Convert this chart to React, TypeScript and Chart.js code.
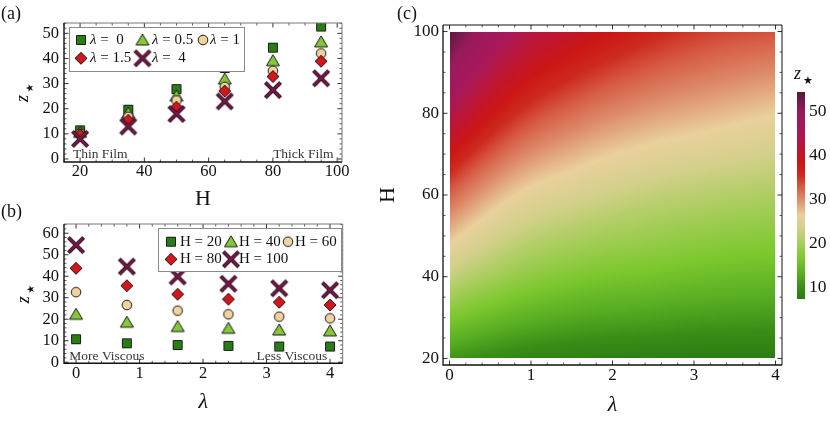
import React, { useEffect, useRef } from 'react';
import { Chart, registerables } from 'chart.js';

Chart.register(...registerables);

const SERIF = "'Liberation Serif', 'DejaVu Serif', 'Times New Roman', serif";
const TEXT = '#111111';

// ---------------- Panel (a): z* versus H, one series per lambda ----------------
const hValuesA = [20, 35, 50, 65, 80, 95];
const zLambda0 = [11.4, 19.6, 27.8, 36.2, 44.3, 52.7];
const zLambda05 = [10.6, 18.3, 25.1, 31.8, 39.1, 46.6];
const zLambda1 = [10.0, 16.8, 23.3, 28.7, 35.1, 42.0];
const zLambda15 = [9.6, 15.4, 20.6, 27.0, 32.8, 38.9];
const zLambda4 = [8.0, 12.9, 17.9, 22.9, 27.4, 32.1];
const seriesLabelsA = ['λ =  0', 'λ = 0.5', 'λ = 1', 'λ = 1.5', 'λ =  4'];
const xTicksA = [20, 40, 60, 80, 100];
const yTicksA = [0, 10, 20, 30, 40, 50];

// ---------------- Panel (b): z* versus lambda, one series per H ----------------
const lambdaValuesB = [0, 0.8, 1.6, 2.4, 3.2, 4];
const zH20 = [10.7, 8.8, 8.0, 7.6, 7.3, 7.3];
const zH40 = [22.3, 18.6, 16.6, 15.8, 15.0, 14.6];
const zH60 = [32.6, 26.6, 24.0, 22.3, 21.2, 20.4];
const zH80 = [43.7, 35.6, 31.6, 29.3, 27.9, 26.6];
const zH100 = [54.5, 44.5, 39.9, 36.5, 34.4, 33.5];
const seriesLabelsB = ['H = 20', 'H = 40', 'H = 60', 'H = 80', 'H = 100'];
const xTicksB = [0, 1, 2, 3, 4];
const yTicksB = [0, 10, 20, 30, 40, 50, 60];

// ---------------- Panel (c): density of z*(lambda, H) ----------------
const heatLambda = [0, 0.8, 1.6, 2.4, 3.2, 4];
const heatH = [20, 40, 60, 80, 100];
const heatZ = [zH20, zH40, zH60, zH80, zH100];
const xTicksC = [0, 1, 2, 3, 4];
const yTicksC = [20, 40, 60, 80, 100];
const colorbarTicks = [10, 20, 30, 40, 50];

// marker styles
const markerKinds = ['square', 'triangle', 'circle', 'diamond', 'cross'];
const markerColors = ['#2a7d14', '#84c83a', '#f0d29e', '#d2161c', '#6e1b46'];

// colour map stops (z value -> colour)
const cmapStops: [number, string][] = [
  [7.3, '#2b7c12'], [10, '#3a8e17'], [13, '#58ad22'], [16.5, '#7cc82e'],
  [20, '#a8cd5c'], [23.5, '#d3d08a'], [26.5, '#e9d09c'], [30, '#dd8c6c'],
  [33, '#d65a44'], [35.5, '#cd2a1e'], [38, '#cc1616'], [41, '#be1530'],
  [45, '#a8185a'], [50, '#971a5c'], [54.5, '#561a3a'],
];

const cmapRGB = cmapStops.map(([v, h]) => [v, parseInt(h.slice(1, 3), 16), parseInt(h.slice(3, 5), 16), parseInt(h.slice(5, 7), 16)]);
function colorAt(v: number): number[] {
  if (v <= cmapRGB[0][0]) return cmapRGB[0].slice(1);
  const last = cmapRGB[cmapRGB.length - 1];
  if (v >= last[0]) return last.slice(1);
  for (let i = 0; i < cmapRGB.length - 1; i++) {
    const a = cmapRGB[i], b = cmapRGB[i + 1];
    if (v >= a[0] && v <= b[0]) {
      const t = (v - a[0]) / (b[0] - a[0]);
      return [a[1] + (b[1] - a[1]) * t, a[2] + (b[2] - a[2]) * t, a[3] + (b[3] - a[3]) * t];
    }
  }
  return last.slice(1);
}

function monoSlopes(xs: number[], ys: number[]): number[] {
  const n = xs.length;
  const d: number[] = [];
  for (let i = 0; i < n - 1; i++) d.push((ys[i + 1] - ys[i]) / (xs[i + 1] - xs[i]));
  const m: number[] = new Array(n).fill(0);
  const endSlope = (h0: number, h1: number, d0: number, d1: number) => {
    let s = ((2 * h0 + h1) * d0 - h0 * d1) / (h0 + h1);
    if (Math.sign(s) !== Math.sign(d0)) s = 0;
    else if (Math.sign(d0) !== Math.sign(d1) && Math.abs(s) > Math.abs(3 * d0)) s = 3 * d0;
    return s;
  };
  if (n > 2) {
    m[0] = endSlope(xs[1] - xs[0], xs[2] - xs[1], d[0], d[1]);
    m[n - 1] = endSlope(xs[n - 1] - xs[n - 2], xs[n - 2] - xs[n - 3], d[n - 2], d[n - 3]);
  } else { m[0] = d[0]; m[1] = d[0]; }
  for (let i = 1; i < n - 1; i++) m[i] = d[i - 1] * d[i] <= 0 ? 0 : (d[i - 1] + d[i]) / 2;
  for (let i = 0; i < n - 1; i++) {
    if (d[i] === 0) { m[i] = 0; m[i + 1] = 0; continue; }
    const a = m[i] / d[i], b = m[i + 1] / d[i];
    const s = a * a + b * b;
    if (s > 9) { const t = 3 / Math.sqrt(s); m[i] = t * a * d[i]; m[i + 1] = t * b * d[i]; }
  }
  return m;
}
function monoEval(xs: number[], ys: number[], m: number[], x: number): number {
  const n = xs.length;
  if (x <= xs[0]) return ys[0];
  if (x >= xs[n - 1]) return ys[n - 1];
  let k = 0;
  while (k < n - 2 && x > xs[k + 1]) k++;
  const h = xs[k + 1] - xs[k];
  const t = (x - xs[k]) / h;
  const t2 = t * t, t3 = t2 * t;
  return (2 * t3 - 3 * t2 + 1) * ys[k] + (t3 - 2 * t2 + t) * h * m[k] + (-2 * t3 + 3 * t2) * ys[k + 1] + (t3 - t2) * h * m[k + 1];
}

function makeMarker(kind: string, fill: string): HTMLCanvasElement {
  const c = document.createElement('canvas');
  const s = kind === 'cross' ? 22 : 16;
  c.width = s; c.height = s;
  const g = c.getContext('2d')!;
  const m = s / 2;
  g.lineWidth = 1;
  g.strokeStyle = '#1a1a1a';
  g.fillStyle = fill;
  g.beginPath();
  if (kind === 'square') {
    g.rect(m - 4.5, m - 4.5, 9, 9);
  } else if (kind === 'triangle') {
    g.moveTo(m, m - 6); g.lineTo(m + 6.5, m + 5); g.lineTo(m - 6.5, m + 5); g.closePath();
  } else if (kind === 'circle') {
    g.arc(m, m, 4.8, 0, Math.PI * 2);
  } else if (kind === 'diamond') {
    g.moveTo(m, m - 6); g.lineTo(m + 6, m); g.lineTo(m, m + 6); g.lineTo(m - 6, m); g.closePath();
  }
  if (kind !== 'cross') { g.fill(); g.stroke(); return c; }
  const a = m - 6.2, b = m + 6.2;
  const lines = () => { g.beginPath(); g.moveTo(a, a); g.lineTo(b, b); g.moveTo(b, a); g.lineTo(a, b); g.stroke(); };
  g.lineCap = 'square';
  g.strokeStyle = '#2a0818'; g.lineWidth = 4.0; lines();
  g.strokeStyle = fill; g.lineWidth = 2.4; lines();
  return c;
}

function xAxis(min: number, max: number, ticks: number[], height: number, size: number, pad: number, title?: any) {
  return {
    type: 'linear', position: 'bottom', min, max,
    afterBuildTicks: (s: any) => { s.ticks = ticks.map((v) => ({ value: v })); },
    afterFit: (s: any) => { s.height = height; },
    grid: { display: false, drawTicks: false }, border: { display: false },
    ticks: { font: { family: SERIF, size }, color: TEXT, padding: pad, autoSkip: false, maxRotation: 0, minRotation: 0 },
    title: title || { display: false },
  };
}
function yAxis(min: number, max: number, ticks: number[], width: number, size: number, pad: number, position = 'left', title?: any) {
  return {
    type: 'linear', position, min, max,
    afterBuildTicks: (s: any) => { s.ticks = ticks.map((v) => ({ value: v })); },
    afterFit: (s: any) => { s.width = width; },
    grid: { display: false, drawTicks: false }, border: { display: false },
    ticks: { font: { family: SERIF, size }, color: TEXT, padding: pad, autoSkip: false },
    title: title || { display: false },
  };
}

function framePlugin(xMinor: number, yMinor: number, sideColor: string, mainWidth: number) {
  return {
    id: 'frameTicks',
    afterDatasetsDraw(chart: any) {
      const { ctx, chartArea: a, scales } = chart;
      const xs = scales.x, ys = scales.y;
      ctx.save();
      const majX = xs.ticks.map((t: any) => t.value);
      const majY = ys.ticks.map((t: any) => t.value);
      const minors = (sc: any, step: number, maj: number[]) => {
        const out: number[] = [];
        for (let v = Math.ceil(sc.min / step - 1e-9) * step; v <= sc.max + 1e-9; v += step) {
          if (!maj.some((mv) => Math.abs(mv - v) < 1e-6)) out.push(v);
        }
        return out;
      };
      const drawTicks = (vals: number[], len: number) => {
        ctx.beginPath();
        vals.forEach((v) => {
          const px = xs.getPixelForValue(v);
          if (px < a.left || px > a.right) return;
          ctx.moveTo(px, a.bottom); ctx.lineTo(px, a.bottom - len);
          ctx.moveTo(px, a.top); ctx.lineTo(px, a.top + len);
        });
        ctx.stroke();
      };
      const drawTicksY = (vals: number[], len: number) => {
        ctx.beginPath();
        vals.forEach((v) => {
          const py = ys.getPixelForValue(v);
          if (py < a.top || py > a.bottom) return;
          ctx.moveTo(a.left, py); ctx.lineTo(a.left + len, py);
          ctx.moveTo(a.right, py); ctx.lineTo(a.right - len, py);
        });
        ctx.stroke();
      };
      ctx.strokeStyle = '#333';
      ctx.lineWidth = 1;
      drawTicks(majX, 4.5); drawTicksY(majY, 4.5);
      ctx.lineWidth = 0.8;
      drawTicks(minors(xs, xMinor, majX), 2.5); drawTicksY(minors(ys, yMinor, majY), 2.5);
      ctx.strokeStyle = sideColor; ctx.lineWidth = 1;
      ctx.beginPath();
      ctx.moveTo(a.left, a.top); ctx.lineTo(a.right, a.top); ctx.lineTo(a.right, a.bottom);
      ctx.stroke();
      ctx.strokeStyle = '#111'; ctx.lineWidth = mainWidth;
      ctx.beginPath();
      ctx.moveTo(a.left, a.top); ctx.lineTo(a.left, a.bottom); ctx.lineTo(a.right, a.bottom);
      ctx.stroke();
      ctx.restore();
    },
  };
}

function drawZStarRotated(ctx: CanvasRenderingContext2D, x: number, y: number) {
  ctx.save();
  ctx.translate(x, y);
  ctx.rotate(-Math.PI / 2);
  ctx.fillStyle = TEXT;
  ctx.textAlign = 'left';
  ctx.textBaseline = 'alphabetic';
  ctx.font = `italic 18px ${SERIF}`;
  ctx.fillText('z', -9.5, 0);
  ctx.font = `10px 'DejaVu Sans', sans-serif`;
  ctx.textAlign = 'center';
  ctx.textBaseline = 'middle';
  ctx.fillText('★', 4.5, 2);
  ctx.restore();
}

function drawLegend(ctx: CanvasRenderingContext2D, chart: any, labels: string[], box: number[], rows: number[], cols: number[], textXs: number[]) {
  ctx.save();
  ctx.fillStyle = '#ffffff';
  ctx.fillRect(box[0], box[1], box[2], box[3]);
  ctx.strokeStyle = '#8a8a8a';
  ctx.lineWidth = 1;
  ctx.strokeRect(box[0] + 0.5, box[1] + 0.5, box[2], box[3]);
  labels.forEach((lab, i) => {
    const r = Math.floor(i / 3), c = i % 3;
    const y = rows[r];
    const mk = chart.data.datasets[i].pointStyle as HTMLCanvasElement;
    ctx.drawImage(mk, cols[c] - mk.width / 2, y - mk.height / 2);
    let x = textXs[c];
    let rest = lab;
    ctx.fillStyle = TEXT;
    ctx.textBaseline = 'middle';
    ctx.textAlign = 'left';
    if (rest.startsWith('λ')) {
      ctx.font = `italic 15px ${SERIF}`;
      ctx.fillText('λ', x, y);
      x += ctx.measureText('λ').width;
      rest = rest.slice(1);
    }
    ctx.font = `15px ${SERIF}`;
    ctx.fillText(rest, x, y);
  });
  ctx.restore();
}

function scatterDatasets(series: number[][], xs: number[], labels: string[], markers: HTMLCanvasElement[]) {
  return series.map((zs, i) => ({
    label: labels[i],
    data: xs.map((x, j) => ({ x, y: zs[j] })),
    pointStyle: markers[i],
    pointRadius: 5,
    showLine: false,
    order: series.length - i,
  }));
}

const baseOptions = {
  responsive: false,
  animation: false,
  events: [],
  plugins: { legend: { display: false }, tooltip: { enabled: false } },
};

export default function App() {
  const refA = useRef<HTMLCanvasElement>(null);
  const refB = useRef<HTMLCanvasElement>(null);
  const refC = useRef<HTMLCanvasElement>(null);
  const refBar = useRef<HTMLCanvasElement>(null);

  useEffect(() => {
    Chart.defaults.font.family = SERIF;
    const markers = markerKinds.map((k, i) => makeMarker(k, markerColors[i]));
    const titleFont = { family: SERIF, size: 22 };
    const allZ = heatZ.flat();
    const zMin = Math.min(...allZ);
    const zMax = Math.max(...allZ);

    // ---- (a) ----
    const chartA = new Chart(refA.current!, {
      type: 'scatter',
      data: { datasets: scatterDatasets([zLambda0, zLambda05, zLambda1, zLambda15, zLambda4], hValuesA, seriesLabelsA, markers) as any },
      options: {
        ...baseOptions,
        layout: { padding: { left: 0, top: 23, right: 830 - 342, bottom: 425 - 162 - 50 } },
        scales: {
          x: xAxis(15, 101.5, xTicksA, 50, 16.5, 0, { display: true, text: 'H', font: titleFont, color: TEXT, padding: { top: 0, bottom: 0 } }),
          y: yAxis(-1.2, 54.1, yTicksA, 64, 16.5, 5),
        },
      } as any,
      plugins: [
        framePlugin(5, 2, '#777', 1.4),
        {
          id: 'annotA',
          afterDraw(chart: any) {
            const ctx = chart.ctx as CanvasRenderingContext2D;
            const a = chart.chartArea;
            ctx.save();
            ctx.fillStyle = TEXT;
            ctx.font = `18px ${SERIF}`;
            ctx.textAlign = 'left'; ctx.textBaseline = 'alphabetic';
            ctx.fillText('(a)', 1, 19);
            ctx.font = `13.5px ${SERIF}`; ctx.fillStyle = '#333';
            ctx.fillText('Thin Film', a.left + 9, a.bottom - 4);
            ctx.textAlign = 'right';
            ctx.fillText('Thick Film', a.right - 8.5, a.bottom - 4);
            ctx.restore();
            drawZStarRotated(ctx, 28.3, (a.top + a.bottom) / 2);
            drawLegend(ctx, chart, seriesLabelsA, [69, 27, 175, 44], [40, 58.3], [81, 142.5, 203], [90, 152, 210]);
          },
        },
      ],
    });

    // ---- (b) ----
    const chartB = new Chart(refB.current!, {
      type: 'scatter',
      data: { datasets: scatterDatasets([zH20, zH40, zH60, zH80, zH100], lambdaValuesB, seriesLabelsB, markers) as any },
      options: {
        ...baseOptions,
        layout: { padding: { left: 0, top: 224, right: 830 - 342.7, bottom: 425 - 363.3 - 55 } },
        scales: {
          x: xAxis(-0.19, 4.2, xTicksB, 55, 16.5, 0, { display: true, text: 'λ', font: { ...titleFont, style: 'italic' }, color: TEXT, padding: { top: 0, bottom: 3 } }),
          y: yAxis(-0.5, 64.3, yTicksB, 64, 16.5, 5),
        },
      } as any,
      plugins: [
        framePlugin(0.2, 2, '#777', 1.4),
        {
          id: 'annotB',
          afterDraw(chart: any) {
            const ctx = chart.ctx as CanvasRenderingContext2D;
            const a = chart.chartArea;
            ctx.save();
            ctx.fillStyle = TEXT;
            ctx.font = `18px ${SERIF}`;
            ctx.textAlign = 'left'; ctx.textBaseline = 'alphabetic';
            ctx.fillText('(b)', 1, 217);
            ctx.font = `13.5px ${SERIF}`; ctx.fillStyle = '#333';
            ctx.fillText('More Viscous', a.left + 5.3, a.bottom - 3.3);
            ctx.textAlign = 'right';
            ctx.fillText('Less Viscous', a.right - 15.4, a.bottom - 3.3);
            ctx.restore();
            drawZStarRotated(ctx, 29, (a.top + a.bottom) / 2);
            drawLegend(ctx, chart, seriesLabelsB, [158, 228, 183, 43], [241.7, 259.3], [171, 231, 288], [180, 239, 295]);
          },
        },
      ],
    });

    // ---- (c) ----
    const chartC = new Chart(refC.current!, {
      type: 'scatter',
      data: { datasets: [] },
      options: {
        ...baseOptions,
        layout: { padding: { left: 370, top: 25, right: 830 - 782, bottom: 0 } },
        scales: {
          x: xAxis(-0.08, 4.08, xTicksC, 60, 17, 0, { display: true, text: 'λ', font: { ...titleFont, style: 'italic' }, color: TEXT, padding: { top: 0, bottom: 7 } }),
          y: yAxis(18.4, 101.6, yTicksC, 73, 17, 4, 'left', { display: true, text: 'H', font: titleFont, color: TEXT, padding: { top: 5, bottom: 0 } }),
        },
      } as any,
      plugins: [
        {
          id: 'heat',
          beforeDatasetsDraw(chart: any) {
            const { ctx, scales } = chart;
            const xs = scales.x, ys = scales.y;
            const x0 = Math.round(xs.getPixelForValue(heatLambda[0]));
            const x1 = Math.round(xs.getPixelForValue(heatLambda[heatLambda.length - 1]));
            const y0 = Math.round(ys.getPixelForValue(heatH[heatH.length - 1]));
            const y1 = Math.round(ys.getPixelForValue(heatH[0]));
            const w = x1 - x0, h = y1 - y0;
            const off = document.createElement('canvas');
            off.width = w; off.height = h;
            const octx = off.getContext('2d')!;
            const img = octx.createImageData(w, h);
            const rowSlopes = heatZ.map((row) => monoSlopes(heatLambda, row));
            for (let i = 0; i < w; i++) {
              const L = xs.getValueForPixel(x0 + i + 0.5);
              const col = heatZ.map((row, r) => monoEval(heatLambda, row, rowSlopes[r], L));
              const colSlopes = monoSlopes(heatH, col);
              for (let j = 0; j < h; j++) {
                const H = ys.getValueForPixel(y0 + j + 0.5);
                const v = monoEval(heatH, col, colSlopes, H);
                const c = colorAt(v);
                const k = (j * w + i) * 4;
                img.data[k] = c[0]; img.data[k + 1] = c[1]; img.data[k + 2] = c[2]; img.data[k + 3] = 255;
              }
            }
            octx.putImageData(img, 0, 0);
            ctx.drawImage(off, x0, y0);
          },
        },
        framePlugin(0.2, 5, '#111', 1.3),
        {
          id: 'annotC',
          afterDraw(chart: any) {
            const ctx = chart.ctx as CanvasRenderingContext2D;
            ctx.save();
            ctx.fillStyle = TEXT;
            ctx.font = `18px ${SERIF}`;
            ctx.textAlign = 'left'; ctx.textBaseline = 'alphabetic';
            ctx.fillText('(c)', 397, 19);
            ctx.restore();
          },
        },
      ],
    });

    // ---- colour bar ----
    const chartBar = new Chart(refBar.current!, {
      type: 'scatter',
      data: { datasets: [] },
      options: {
        ...baseOptions,
        layout: { padding: { left: 797, top: 92, right: 0, bottom: 425 - 299 } },
        scales: {
          x: { display: false, min: 0, max: 1 },
          y: yAxis(zMin, zMax, colorbarTicks, 25, 17.5, 4, 'right'),
        },
      } as any,
      plugins: [
        {
          id: 'bar',
          beforeDatasetsDraw(chart: any) {
            const { ctx, chartArea: a, scales } = chart;
            const ys = scales.y;
            for (let py = Math.floor(a.top); py < Math.ceil(a.bottom); py++) {
              const c = colorAt(ys.getValueForPixel(py + 0.5));
              ctx.fillStyle = `rgb(${c[0] | 0},${c[1] | 0},${c[2] | 0})`;
              ctx.fillRect(a.left, py, a.right - a.left, 1);
            }
          },
          afterDraw(chart: any) {
            const ctx = chart.ctx as CanvasRenderingContext2D;
            ctx.save();
            ctx.fillStyle = TEXT;
            ctx.textAlign = 'left'; ctx.textBaseline = 'alphabetic';
            ctx.font = `italic 18px ${SERIF}`;
            ctx.fillText('z', 794, 79);
            ctx.font = `11px 'DejaVu Sans', sans-serif`;
            ctx.textAlign = 'center'; ctx.textBaseline = 'middle';
            ctx.fillText('★', 808, 81);
            ctx.restore();
          },
        },
      ],
    });

    return () => { chartA.destroy(); chartB.destroy(); chartC.destroy(); chartBar.destroy(); };
  }, []);

  const cs: React.CSSProperties = { position: 'absolute', left: 0, top: 0 };
  return (
    <div style={{ position: 'fixed', left: 0, top: 0, width: 830, height: 425, background: '#ffffff' }}>
      <canvas ref={refC} width={830} height={425} style={cs} />
      <canvas ref={refBar} width={830} height={425} style={cs} />
      <canvas ref={refA} width={830} height={425} style={cs} />
      <canvas ref={refB} width={830} height={425} style={cs} />
    </div>
  );
}
